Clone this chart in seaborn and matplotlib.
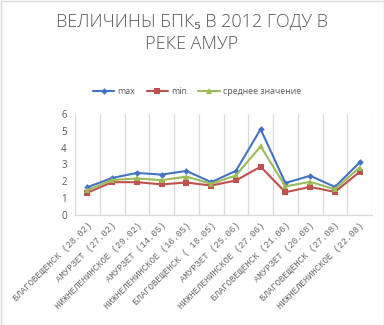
import matplotlib
matplotlib.use("Agg")
import matplotlib.pyplot as plt
import pandas as pd
import seaborn as sns

# BOD5 measurements along the Amur river, 2012
stations = [
    "БЛАГОВЕЩЕНСК (28.02)", "АМУРЗЕТ (27.02)", "НИЖНЕЛЕНИНСКОЕ (29.02)",
    "АМУРЗЕТ (14.05)", "НИЖНЕЛЕНИНСКОЕ (16.05)", "БЛАГОВЕЩЕНСК ( 18.05)",
    "АМУРЗЕТ (25.06)", "НИЖНЕЛЕНИНСКОЕ (27.06)", "БЛАГОВЕЩЕНСК (21.06)",
    "АМУРЗЕТ (20.08)", "БЛАГОВЕЩЕНСК (27.08)", "НИЖНЕЛЕНИНСКОЕ (22.08)",
]
bod_max = [1.65, 2.2, 2.5, 2.4, 2.62, 1.95, 2.62, 5.1, 1.9, 2.33, 1.67, 3.12]
bod_min = [1.32, 1.95, 1.95, 1.82, 1.93, 1.75, 2.05, 2.87, 1.35, 1.67, 1.37, 2.56]
bod_avg = [1.48, 2.08, 2.17, 2.07, 2.28, 1.85, 2.35, 4.08, 1.7, 1.97, 1.53, 2.82]
series_names = ["max", "min", "среднее значение"]

sns.set_theme(style="white")
plt.rcParams["font.family"] = ["Open Sans", "DejaVu Sans"]

text_gray = "#595959"
grid_gray = "#d9d9d9"
colors = {"max": "#4472C4", "min": "#C0504D", "среднее значение": "#9BBB59"}
markers = {"max": "D", "min": "s", "среднее значение": "^"}
sizes = {"max": 4.2, "min": 5.2, "среднее значение": 5.8}

rows = []
for name, vals in zip(series_names, [bod_max, bod_min, bod_avg]):
    for st, v in zip(stations, vals):
        rows.append({"station": st, "value": v, "series": name})
df = pd.DataFrame(rows)

fig = plt.figure(figsize=(3.84, 3.25), dpi=100)
ax = fig.add_axes([75 / 384, 1 - 215 / 325, 297 / 384, 101 / 325])

for name in series_names:
    sub = df[df["series"] == name]
    sns.lineplot(data=sub, x="station", y="value", ax=ax, sort=False,
                 color=colors[name], marker=markers[name],
                 markersize=sizes[name], markeredgewidth=0,
                 linewidth=1.5, label=name)

ax.set_xlim(-0.5, len(stations) - 0.5)
ax.set_ylim(0, 6)
ax.set_yticks(range(0, 7))
ax.set_xlabel("")
ax.set_ylabel("")

# vertical gridlines between categories
for b in range(len(stations) + 1):
    ax.axvline(b - 0.5, color=grid_gray, lw=0.9, zorder=0)
for side in ["top", "right", "left"]:
    ax.spines[side].set_visible(False)
ax.spines["bottom"].set_color(grid_gray)
ax.spines["bottom"].set_linewidth(0.9)

ax.tick_params(axis="y", length=0, labelsize=7, labelcolor=text_gray, pad=6)
ax.tick_params(axis="x", length=0, labelcolor="#6a6a6a", pad=4)
ax.set_xticks(range(len(stations)))
# monospaced face gives the wide, evenly tracked look of the category labels
ax.set_xticklabels(stations, rotation=45, ha="right", rotation_mode="anchor",
                   family=["Liberation Mono", "DejaVu Sans Mono"], fontsize=6.5)

handles, labels = ax.get_legend_handles_labels()
for h in handles:
    h.set_markersize(h.get_markersize() * 0.8)
ax.legend(handles, labels, loc="center", bbox_to_anchor=(197 / 384, 1 - 92 / 325),
          bbox_transform=fig.transFigure,
          ncol=3, frameon=False, fontsize=6.3, labelcolor=text_gray,
          handlelength=2.45, handletextpad=0.35, columnspacing=1.3)

title_family = ["Open Sans", "Noto Sans", "DejaVu Sans"]
fig.text(0.5, 1 - 22 / 325, "ВЕЛИЧИНЫ БПК₅ В 2012 ГОДУ В", ha="center",
         va="center", fontsize=13, color=text_gray, fontweight="light",
         family=title_family)
fig.text(0.5, 1 - 44 / 325, "РЕКЕ АМУР", ha="center", va="center",
         fontsize=13, color=text_gray, fontweight="light", family=title_family)

fig.patches.append(plt.Rectangle((0.5 / 384, 0.5 / 325), 1 - 1 / 384, 1 - 1 / 325,
                                 transform=fig.transFigure, fill=False,
                                 ec=grid_gray, lw=1))

fig.savefig("out.png", dpi=100)
